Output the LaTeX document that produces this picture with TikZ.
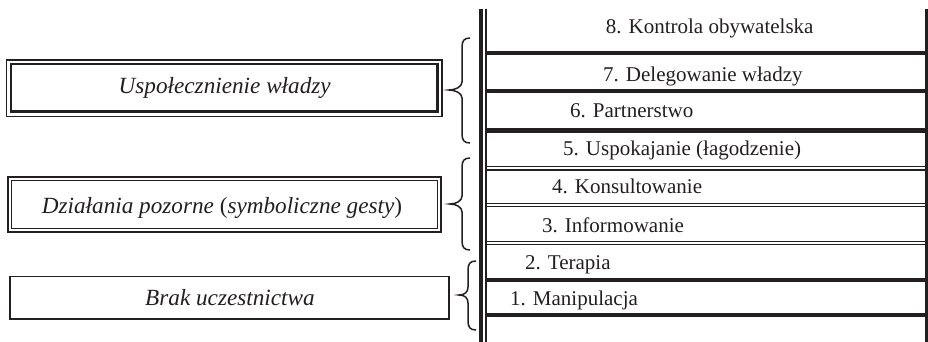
\documentclass[tikz,border=0pt]{standalone}
\usepackage{fontspec}
\setmainfont{Liberation Serif}
\definecolor{ink}{HTML}{231F20}
\newcommand\mycurlybr[7]{% name, xe, xv, xt, y1, ym, y2
  \draw[bracel] (#2,#5) .. controls ({#3+2},#5) and (#3,{#5+3}) .. (#3,{#5+9})
    -- (#3,{#6-8}) .. controls (#3,{#6-3}) and ({#4+6},#6) .. (#4,#6) coordinate (#1)
    .. controls ({#4+6},#6) and (#3,{#6+3}) .. (#3,{#6+8})
    -- (#3,{#7-9}) .. controls (#3,{#7-3}) and ({#3+2},#7) .. (#2,#7);}
\begin{document}
\begin{tikzpicture}[x=1pt,y=-1pt,
  lbl/.style={inner sep=0pt,anchor=base west,text=ink,font=\fontsize{21}{24}\selectfont},
  ilbl/.style={lbl,font=\fontsize{23.2}{26}\selectfont\itshape},
  rung/.style={draw=ink,line width=4.3pt},
  drung/.style={draw=ink,line width=1.4pt},
  bracel/.style={draw=ink,line width=1.5pt},
  frame/.style={draw=ink,line width=1.4pt}]
\useasboundingbox (0,0) rectangle (928,342);
% ladder uprights
\draw[draw=ink,line width=3.8pt] (481,9) -- (481,342);
\draw[draw=ink,line width=1.8pt] (486,9) -- (486,342);
\draw[draw=ink,line width=3pt] (926.5,9) -- (926.5,342);
% rungs
\draw[rung] (487,53) -- (925,53);
\draw[rung] (487,90.8) -- (925,90.8);
\draw[rung,line width=5pt] (487,130.5) -- (925,130.5);
\draw[drung] (487,166.7) -- (925,166.7);
\draw[drung] (487,169.9) -- (925,169.9);
\draw[drung] (487,203.4) -- (925,203.4);
\draw[drung] (487,206.6) -- (925,206.6);
\draw[drung] (487,241.3) -- (925,241.3);
\draw[drung] (487,244.5) -- (925,244.5);
\draw[rung] (487,279.7) -- (925,279.7);
\draw[rung] (487,315.3) -- (925,315.3);
% ladder labels
\node[lbl] (r8) at (605.7,34) {8. Kontrola obywatelska};
\node[lbl] (r7) at (603,81.5) {7. Delegowanie władzy};
\node[lbl] (r6) at (570,117.5) {6. Partnerstwo};
\node[lbl] (r5) at (563,155) {5. Uspokajanie (łagodzenie)};
\node[lbl] (r4) at (552,193.3) {4. Konsultowanie};
\node[lbl] (r3) at (542,232.3) {3. Informowanie};
\node[lbl] (r2) at (525,269.3) {2. Terapia};
\node[lbl] (r1) at (510,305) {1. Manipulacja};
% boxes
\draw[draw=ink,line width=1.3pt] (6.7,60) rectangle (442,116.7);
\draw[draw=ink,line width=2.1pt] (11,64.3) rectangle (437.5,111.5);
\draw[draw=ink,line width=1.7pt] (8,177) rectangle (441,232.3);
\draw[draw=ink,line width=1.1pt] (11.2,180.5) rectangle (437.8,228.8);
\draw[frame] (10,276.7) rectangle (449,319);
\node[ilbl] (b1) at (118.5,93.5) {Uspołecznienie władzy};
\node[ilbl] (b2) at (41.7,213.3) {Działania pozorne {\upshape(}symboliczne gesty{\upshape)}};
\node[ilbl] (b3) at (145,305.5) {Brak uczestnictwa};
% braces
\mycurlybr{k1}{470}{462}{449}{38}{90}{143}
\mycurlybr{k2}{470}{462}{450}{158}{204}{250}
\mycurlybr{k3}{476}{468}{459}{261}{295}{330}
\end{tikzpicture}
\end{document}
